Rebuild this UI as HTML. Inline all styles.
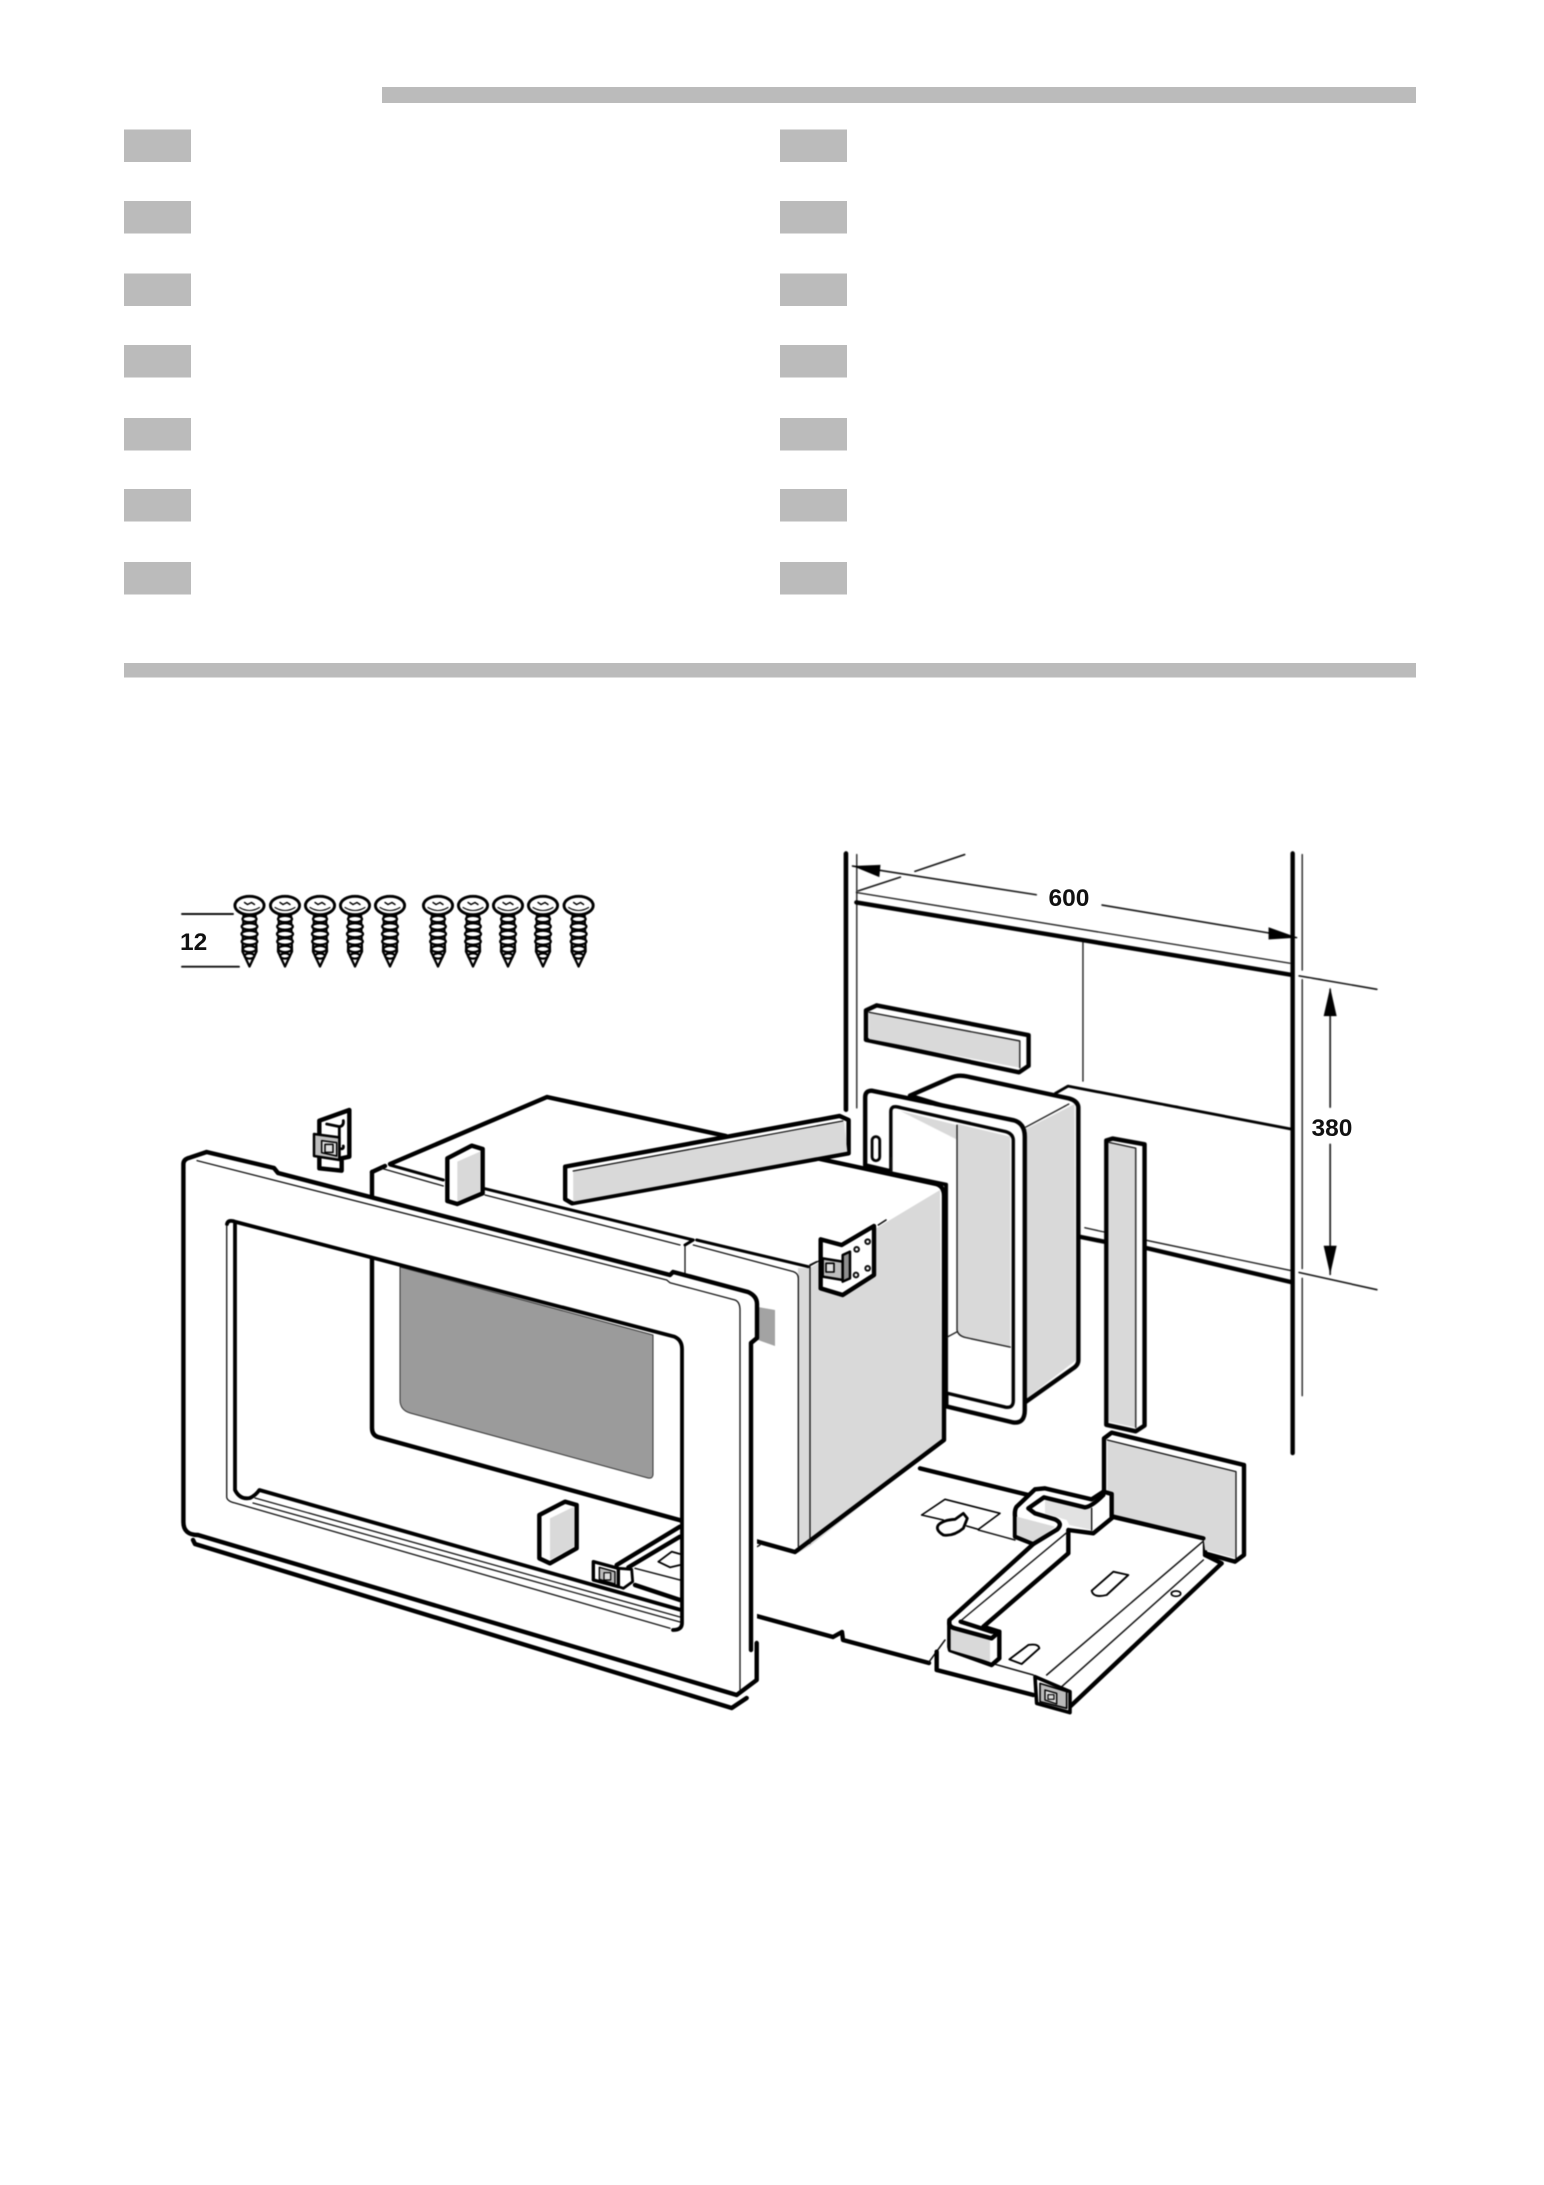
<!DOCTYPE html>
<html>
<head>
<meta charset="utf-8">
<style>
html,body{margin:0;padding:0;background:#fff}
svg{display:block}
svg *{vector-effect:non-scaling-stroke}
path,polygon,ellipse,circle,line,rect{stroke-linejoin:round;stroke-linecap:round}
.t{fill:none;stroke:#000;stroke-width:4.4}
.m{fill:none;stroke:#000;stroke-width:2.8}
.n{fill:none;stroke:#111;stroke-width:1.3}
.wt{fill:#fff;stroke:#000;stroke-width:4.4}
.wm{fill:#fff;stroke:#000;stroke-width:2.8}
.w{fill:#fff;stroke:none}
.g{fill:#d9d9d9;stroke:none}
.dg{fill:#9b9b9b;stroke:none}
.b{fill:#000;stroke:none}
.art{filter:blur(.45px)}
text{font-family:"Liberation Sans",sans-serif;font-weight:bold;fill:#111;font-size:24.5px}
</style>
</head>
<body>
<svg width="1544" height="2185" viewBox="0 0 1544 2185" xmlns="http://www.w3.org/2000/svg">
<rect width="1544" height="2185" fill="#fff"/>
<g fill="#bbb">
<rect x="382" y="87" width="1034" height="16"/>
<rect x="124" y="663" width="1292" height="14.5"/>
<rect x="124" y="129.5" width="67" height="32.5"/><rect x="780" y="129.5" width="67" height="32.5"/>
<rect x="124" y="201" width="67" height="32.5"/><rect x="780" y="201" width="67" height="32.5"/>
<rect x="124" y="273.5" width="67" height="32.5"/><rect x="780" y="273.5" width="67" height="32.5"/>
<rect x="124" y="345" width="67" height="32.5"/><rect x="780" y="345" width="67" height="32.5"/>
<rect x="124" y="418" width="67" height="32.5"/><rect x="780" y="418" width="67" height="32.5"/>
<rect x="124" y="489" width="67" height="32.5"/><rect x="780" y="489" width="67" height="32.5"/>
<rect x="124" y="562" width="67" height="32.5"/><rect x="780" y="562" width="67" height="32.5"/>
</g>

<defs>
<g id="screw">
<g fill="#fff" stroke="#000" stroke-width="2.3">
<path d="M-6,9 L-7,46 L0,61 L7,46 L6,9 Z"/>
<ellipse cx="0" cy="13.5" rx="7" ry="3.2"/>
<ellipse cx="0" cy="21" rx="7.8" ry="3.3"/>
<ellipse cx="0" cy="28.5" rx="8" ry="3.3"/>
<ellipse cx="0" cy="36" rx="7.8" ry="3.3"/>
<ellipse cx="0" cy="43.5" rx="6.6" ry="3.1"/>
<ellipse cx="0" cy="50.5" rx="4.8" ry="2.6"/>
</g>
<ellipse cx="0" cy="0" rx="14.6" ry="9.2" fill="#fff" stroke="#000" stroke-width="2.9"/>
<path d="M-10,2 Q0,8 10,2" fill="none" stroke="#000" stroke-width="1.1"/>
<path d="M-5,-3 L-2,-1 L2,-3 L5,-1" fill="none" stroke="#000" stroke-width="1.4"/>
</g>
</defs>

<g class="art">
<use href="#screw" x="249.5" y="905.5"/>
<use href="#screw" x="285" y="905.5"/>
<use href="#screw" x="320" y="905.5"/>
<use href="#screw" x="355" y="905.5"/>
<use href="#screw" x="390" y="905.5"/>
<use href="#screw" x="438" y="905.5"/>
<use href="#screw" x="473" y="905.5"/>
<use href="#screw" x="508" y="905.5"/>
<use href="#screw" x="543" y="905.5"/>
<use href="#screw" x="578.6" y="905.5"/>
<path class="n" d="M182,914 H233 M182,966.7 H239" style="stroke-width:1.9"/>

<!-- wall, dimension, box, strips -->
<g transform="translate(820,840) scale(.3827)">
<path class="t" d="M68,35 V705 M1235,35 V1602"/>
<path class="n" d="M96,38 V700 M1260,38 V340 M1260,365 V1120 M1260,1145 V1452"/>
<path class="n" d="M85,68 L565,143 M737,170 L1245,255 M100,133 L210,97 M248,82 L378,38" style="stroke-width:1.6"/>
<polygon class="b" points="85,68 158,65 155,97"/>
<polygon class="b" points="1248,255 1172,228 1172,260"/>
<path class="n" d="M95,137 L1228,322"/>
<path class="t" d="M95,163 L1230,352"/>
<path class="n" d="M687,268 V630"/>
<path class="m" d="M615,662 L648,643 L1230,755"/>
<path class="t" d="M680,1037 L745,1050 M848,1065 L1230,1155"/>
<path class="n" d="M692,1013 L745,1025 M848,1045 L1230,1125"/>
<path class="n" d="M1252,355 L1455,390 M1252,1130 L1455,1175 M1333,390 V698 M1333,795 V1135" style="stroke-width:1.6"/>
<polygon class="b" points="1333,385 1316,460 1350,460"/>
<polygon class="b" points="1333,1135 1316,1060 1350,1060"/>

<path class="wt" d="M235,668 L340,622 Q360,612 385,618 L650,675 Q675,682 675,700 V1360 Q675,1370 665,1378 L535,1470 V760 Z"/>
<polygon class="g" points="538,755 665,690 668,1360 538,1460"/>
<path class="n" d="M538,750 L650,690"/>
<path class="wt" d="M118,850 V672 Q118,655 135,655 L505,732 Q535,740 535,775 V1490 Q535,1525 505,1522 L330,1480 V900 Z"/>
<path class="wm" d="M185,870 V710 Q185,695 200,697 L485,762 Q505,768 505,785 V1465 Q505,1485 485,1482 L330,1445 V900 Z" style="stroke-width:3.4"/>
<path class="g" d="M360,742 L497,775 V1325 L380,1300 Q360,1295 358,1280 Z"/>
<polygon class="g" points="210,708 358,745 356,782"/>
<path class="n" d="M358,745 V1280 Q360,1295 380,1300 L497,1325 M358,1285 L330,1300 M186,830 V870"/>
<rect class="wm" x="136" y="775" width="20" height="63" rx="10"/>

<polygon class="wt" points="120,445 148,432 545,510 545,590 520,607 120,522"/>
<polygon class="g" points="128,450 522,525 522,595 128,520"/>
<path class="n" d="M128,450 L522,525 V595"/>
<polygon class="wt" points="748,785 765,780 848,795 848,1530 825,1545 748,1528"/>
<polygon class="g" points="755,790 825,805 825,1535 755,1520"/>
<path class="n" d="M755,790 L825,805 V1535"/>
</g>

<!-- left plate edges -->
<path class="t" d="M753,1615 L833,1637 L842,1632 L843,1640 L929,1663"/>

<!-- base plate, rail, panel : 3x crop at 920,1420 -->
<g transform="translate(920,1420) scale(.33333)">
<polygon class="wt" points="552,55 575,38 972,135 972,405 945,425 855,400 855,355 575,290 552,215"/>
<polygon class="g" points="562,60 948,155 948,415 855,390 850,350 575,285 575,225 562,215"/>
<path class="n" d="M562,60 L948,155 V415"/>
<path class="t" d="M0,145 L325,225 M580,290 L850,355 M855,405 L905,430 L450,860"/>
<path class="n" d="M848,365 L380,765 M850,420 L425,800 M215,730 L340,765 M175,330 L285,360" style="stroke-width:1.5"/>
<path class="m" d="M5,285 L75,238 L240,280 L175,328 L140,318 M5,285 L70,300" style="stroke-width:1.6"/>
<path class="wm" d="M130,280 L142,295 L130,325 Q100,350 70,345 Q45,330 55,315 Q70,300 105,298 Z"/>
<path class="n" d="M27,726 L75,660" style="stroke-width:1.5"/>
<path class="t" d="M50,695 V750 L340,825"/>
<path class="m" d="M515,512 L580,455 L625,465 L560,525 Q520,535 515,512 Z" style="stroke-width:1.9"/>
<path class="m" d="M268,718 L325,675 Q355,670 358,685 L305,732 Z" style="stroke-width:1.9"/>
<ellipse class="m" cx="768" cy="521" rx="14" ry="8" style="stroke-width:1.7"/>
<!-- rail -->
<path class="wt" d="M575,222 L550,215 L515,238 L375,205 L345,208 L290,260 Q283,270 285,290 V350 L340,372 L88,600 V680 L90,690 L215,735 L238,715 V635 L190,620 L445,400 V330 L520,340 L575,295 Z"/>
<polygon class="g" points="92,620 210,655 210,725 92,690"/>
<polygon class="g" points="290,290 405,320 345,368 290,345"/>
<polygon points="375,240 515,265 515,330 448,315 440,300 375,280" fill="#e2e2e2"/>
<path class="t" d="M325,265 L372,232 L495,262 Q515,260 550,225 M325,265 L345,280 L405,298 Q430,310 412,328 L340,372 M122,605 L215,635 L238,635 M88,605 Q85,620 105,625 L215,655 L238,635"/>
<path class="n" d="M440,338 L125,600 M515,265 V330" style="stroke-width:1.4"/>
<path class="wt" d="M345,770 L350,850 L450,878 V815 Z" style="stroke-width:3.6"/>
<polygon points="360,790 440,815 440,865 360,845" fill="#bbb" stroke="#000" stroke-width="1.6"/>
<polygon points="375,810 410,820 410,852 375,840" fill="#ddd" stroke="#000" stroke-width="1.4"/>
<rect x="384" y="824" width="18" height="14" fill="none" stroke="#000" stroke-width="1.2"/>
</g>

<!-- oven body -->
<polygon class="w" points="391,1163 547,1097 944,1186 944,1442 797,1551 752,1540 372,1434 372,1170"/>
<polygon class="g" points="798,1268 810,1268 940,1190 942,1442 810,1546 798,1553"/>
<path class="t" d="M390,1164 L547,1097 L726,1136 M820,1159 L936,1184 Q944,1186 944,1196 V1440 L795,1552 L752,1540 L378,1437 Q372,1435 372,1428 V1172"/>
<path class="t" d="M372,1172 L385,1166"/>
<g transform="translate(360,1100) scale(.33333)">
<path class="m" d="M90,195 L250,240" style="stroke-width:3"/>
<path class="m" d="M370,265 L1000,420 L975,435 M1010,420 L1345,500" style="stroke-width:3"/>
<path class="n" d="M65,205 L250,258 M375,285 L960,435 M1000,435 L1300,515 Q1315,520 1315,535 V1340 M975,440 V520 M1350,500 V1330 M1345,500 L1378,482"/>
</g>
<polygon points="758,1307 775,1310 775,1346 758,1340" fill="#a3a3a3"/>
<!-- glass -->
<path class="dg" d="M400,1267 L653,1335 V1474 Q653,1479 648,1478 L410,1413 Q400,1410 400,1400 Z" style="stroke:#333;stroke-width:1"/>

<!-- long strip & pads -->
<g transform="translate(360,1100) scale(.33333)">
<polygon class="wt" points="262,175 335,137 368,147 368,280 292,312 262,303"/>
<polygon class="g" points="292,185 360,155 360,275 292,305"/>
</g>
<g transform="translate(150,840) scale(.4464,.3333)">
<polygon class="wt" points="930,980 1545,828 1565,840 1565,940 945,1090 930,1078"/>
<polygon class="g" points="948,995 1555,845 1562,935 948,1085"/>
<path class="n" d="M948,993 L1552,843"/>
</g>
<g transform="translate(170,1400) scale(.33333)">
<polygon class="wt" points="1108,345 1185,305 1220,315 1220,445 1140,490 1108,475"/>
<polygon class="g" points="1140,355 1212,320 1212,440 1140,480"/>
</g>

<!-- things in the opening : 3x crop at 560,1480 -->
<g transform="translate(560,1480) scale(.33333)">
<path class="t" d="M170,255 L360,140 M205,262 L360,170 M225,315 L360,360"/>
<path class="n" d="M225,265 L360,300" style="stroke-width:1.5"/>
<path class="m" d="M295,245 L335,215 L360,222 M295,245 L330,262 L360,255" style="stroke-width:1.8"/>
<polygon class="wt" points="175,265 215,268 218,305 190,325 175,320" style="stroke-width:2.8"/>
<polygon points="100,245 175,265 175,320 100,300" fill="#fff" stroke="#000" stroke-width="3.4"/>
<polygon points="118,262 165,275 165,312 118,298" fill="#bbb" stroke="#000" stroke-width="1.4"/>
<rect x="132" y="278" width="20" height="22" fill="#ddd" stroke="#000" stroke-width="1.2"/>
<path class="n" d="M600,195 L582,205" style="stroke-width:1.4"/>
</g>

<!-- top clip -->
<g transform="translate(280,1100) scale(.33333)">
<polygon class="wt" points="118,62 208,30 208,170 185,175 185,212 118,205"/>
<path class="m" d="M140,72 L178,80 M178,80 V170 M178,80 Q192,78 190,62 M178,145 Q192,150 190,138"/>
<polygon points="102,102 178,112 178,180 102,168" fill="#bdbdbd" stroke="#000" stroke-width="2.5"/>
<polygon points="125,122 170,128 170,168 125,158" fill="#e0e0e0" stroke="#000" stroke-width="1.5"/>
<rect x="135" y="133" width="24" height="24" fill="none" stroke="#000" stroke-width="1.5"/>
</g>

<!-- bracket on oven -->
<g transform="translate(800,1220) scale(.33333)">
<path class="n" d="M30,135 L50,125 M235,15 L258,0" style="stroke-width:1.6"/>
<polygon class="wt" points="62,58 125,75 222,18 222,165 128,225 62,205"/>
<polygon points="68,115 128,125 128,180 68,170" fill="#bdbdbd" stroke="#000" stroke-width="2.5"/>
<polygon points="128,105 150,95 150,175 128,185" fill="#8f8f8f" stroke="#000" stroke-width="2.5"/>
<rect x="78" y="130" width="24" height="26" fill="#e0e0e0" stroke="#000" stroke-width="1.6"/>
<circle class="n" cx="170" cy="88" r="7" style="stroke-width:2"/>
<circle class="n" cx="203" cy="65" r="7" style="stroke-width:2"/>
<circle class="n" cx="168" cy="165" r="7" style="stroke-width:2"/>
<circle class="n" cx="203" cy="145" r="7" style="stroke-width:2"/>
</g>

<!-- front frame (real pixel coordinates) -->
<path fill="#fff" fill-rule="evenodd" stroke="none" d="M183.4,1164 Q183.4,1159 190,1157.6 L206.6,1152 L274,1168 L278,1173 L670,1275 L673,1272 L677,1273 L748,1292 Q757,1296 757,1304 V1680 L736.7,1695 L198,1535 Q183.4,1535 183.4,1522 Z M236,1222 L674.5,1336.7 Q682,1340 682,1349 V1610 L259.3,1490 Q256,1495 250,1498 Q240,1500 235,1490 Z"/>
<path class="t" d="M198,1535 Q183.4,1535 183.4,1522 V1164 Q183.4,1159 190,1157.6 L206.6,1152 L274,1168 L278,1173 L670,1275 L673,1272 L677,1273 L748,1292 Q757,1296 757,1304 V1338 L751,1343 V1650 M756.7,1643 V1680 L736.7,1695 L198,1535"/>
<path class="t" d="M227,1224 Q228,1219 236,1222 L674.5,1336.7 Q682,1340 682,1349 V1623 Q682,1630 673,1630 M681,1610 L259.3,1490 Q256,1495 250,1498 Q240,1500 235,1490 V1222" style="stroke-width:3.8"/>
<path class="n" d="M197,1160.6 L666.7,1280 L670,1282.7 L735,1300 Q740,1302 740,1310 V1690 M226.7,1226 V1496.7 Q226.7,1501 235,1503 L670,1628.3 M255,1498 L680,1617 M253,1503 L680,1622"/>
<path class="t" d="M193,1540 L195,1544 L731.7,1708 L746.7,1698"/>
</g>

<text x="180" y="950">12</text>
<text x="1069" y="906" text-anchor="middle">600</text>
<text x="1332" y="1136" text-anchor="middle">380</text>
</svg>
</body>
</html>
